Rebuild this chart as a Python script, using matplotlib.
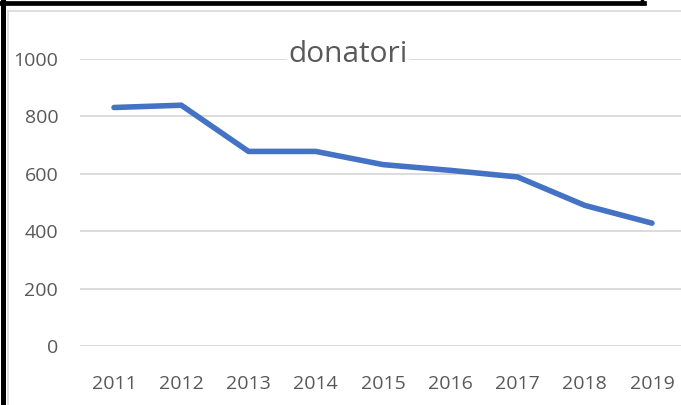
import matplotlib
matplotlib.use('Agg')
from matplotlib import pyplot as plt
from matplotlib.lines import Line2D

years = ['2011', '2012', '2013', '2014', '2015', '2016', '2017', '2018', '2019']
donatori = [831, 839, 678, 678, 632, 612, 589, 490, 428]
y_ticks = [0, 200, 400, 600, 800, 1000]
title = 'donatori'

W, H = 681, 405
plt.rcParams['font.family'] = ['Open Sans', 'DejaVu Sans']

fig = plt.figure(figsize=(W / 100, H / 100), dpi=100)
fig.patch.set_facecolor('white')


def px(x, y):
    return x / W, 1 - y / H


# plot area in pixel coords of the reference
left, right, top, bottom = 80.4, 685.6, 59, 346
ax = fig.add_axes([left / W, 1 - bottom / H, (right - left) / W, (bottom - top) / H])

x = list(range(len(years)))
ax.plot(x, donatori, color='#4472C4', lw=4.0, solid_capstyle='round',
        solid_joinstyle='round', clip_on=False, zorder=3)

ax.set_xlim(-0.5, len(years) - 0.5)
ax.set_ylim(0, 1000)
ax.set_xticks(x)
ax.set_xticklabels(years)
ax.set_yticks(y_ticks)
ax.set_yticklabels([str(v) for v in y_ticks])
ax.grid(axis='y', color='#D9D9D9', lw=1.3)
ax.set_axisbelow(True)
for s in ax.spines.values():
    s.set_visible(False)
ax.tick_params(axis='both', length=0, labelsize=14, labelcolor='#595959')
ax.tick_params(axis='y', pad=16)
ax.tick_params(axis='x', pad=21)

tx, ty = px(348, 55)
fig.text(tx, ty, title, ha='center', va='center', fontsize=21.5, color='#595959',
         bbox=dict(facecolor='white', edgecolor='none', pad=1), zorder=5)

# chart frame (light gray) and the black box cut off at the top left
gx0, gy0 = px(8, 11)
fig.add_artist(Line2D([gx0, 1], [gy0, gy0], color='#D9D9D9', lw=1.2, transform=fig.transFigure))
fig.add_artist(Line2D([gx0, gx0], [gy0, 0], color='#D9D9D9', lw=1.2, transform=fig.transFigure))

bx0, by0 = px(0, 3)
bx1, _ = px(644, 3)
fig.add_artist(Line2D([bx0, bx1], [by0, by0], color='black', lw=3.4, transform=fig.transFigure))
vx, _ = px(642, 0)
fig.add_artist(Line2D([vx, vx], [1, by0], color='black', lw=2.5, transform=fig.transFigure))
lx, _ = px(2.5, 0)
fig.add_artist(Line2D([lx, lx], [1, 0], color='black', lw=3.6, transform=fig.transFigure))

fig.savefig('out.png', dpi=100)
